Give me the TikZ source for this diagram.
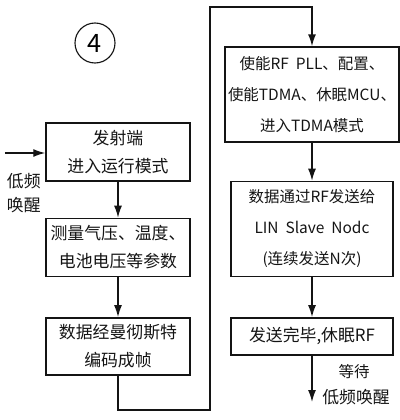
\documentclass[tikz,border=0pt]{standalone}
\usepackage{fontspec}
\setmainfont{Noto Sans CJK SC}
\usepackage{tikz}
\usetikzlibrary{arrows.meta, positioning}
\definecolor{inkblack}{RGB}{20,20,20}
\tikzset{
  block/.style={
    rectangle, draw=inkblack, line width=1pt,
    align=center, text=inkblack, inner sep=2pt
  },
  leftblock/.style={block, minimum width=3.6cm, minimum height=1.45cm,
    font=\fontsize{12}{20}\selectfont},
  rightblock/.style={block, minimum width=4.05cm, minimum height=2.375cm,
    font=\fontsize{11}{22}\selectfont},
  note/.style={text=inkblack, align=left, font=\fontsize{12}{17}\selectfont},
  arrow/.style={-{Latex[length=3mm, width=2mm]}, line width=1pt, color=inkblack},
  plainline/.style={line width=1pt, color=inkblack}
}

\begin{document}
\begin{tikzpicture}
  \useasboundingbox (0,0) rectangle (10,-10.5);

  % Step number
  \node[circle, draw=inkblack, line width=0.8pt, minimum size=1cm, inner sep=0pt,
        font=\fontsize{18}{18}\selectfont] (num) at (2.375,-1.075) {4};

  % Column 1 (transmitter start)
  \node[leftblock] (start) at (2.95,-3.8) {发射端\\进入运行模式};
  \node[leftblock, below=0.9cm of start] (measure) {测量气压、温度、\\电池电压等参数};
  \node[leftblock, below=1.0cm of measure, minimum height=1.43cm] (encode) {数据经曼彻斯特\\编码成帧};

  % Column 2 (RF send)
  \node[rightblock] (config) at (7.8,-2.3625) {使能RF\ \ PLL、配置、\\使能TDMA、休眠MCU、\\进入TDMA模式};
  \node[rightblock, below=0.95cm of config] (send) {数据通过RF发送给\\LIN\ \ Slave\ \ Nodc\\(连续发送N次)};
  \node[rightblock, below=1.0cm of send, minimum height=0.925cm,
        font=\fontsize{12}{14}\selectfont] (done) {发送完毕,休眠RF};

  % Wake-up input
  \coordinate (wake) at (0.125,-3.825);
  \node[note, anchor=north west] (wakelbl) at (0.05,-4.2) {低频\\唤醒};

  % Loop-over corners
  \coordinate (loopb) at (5.25,-10.25);
  \coordinate (loopt) at (5.25,-0.175);
  \coordinate (wait) at (7.8,-10.05);

  % Waiting label
  \node[note, font=\fontsize{11}{14}\selectfont] (waitlbl) at (8.85,-9.3) {等待};
  \node[note, font=\fontsize{12}{14}\selectfont] (waitlbl2) at (8.9,-9.92) {低频唤醒};

  % Arrows
  \draw[arrow] (wake) -- (start.west |- wake);
  \draw[arrow] (start) -- (measure);
  \draw[arrow] (measure) -- (encode);
  \draw[arrow] (encode.south) |- (loopb) -- (loopt) -| (config.north);
  \draw[arrow] (config) -- (send);
  \draw[arrow] (send) -- (done);
  \draw[arrow] (done.south) -- (wait);

\end{tikzpicture}
\end{document}
